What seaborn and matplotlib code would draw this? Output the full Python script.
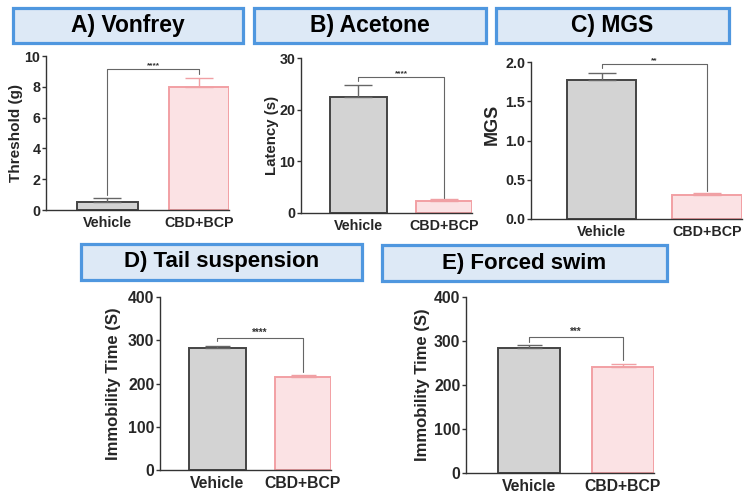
import numpy as np
import pandas as pd
import matplotlib
matplotlib.use("Agg")
import matplotlib.pyplot as plt
import seaborn as sns
from matplotlib.patches import Rectangle

sns.set_theme(style="ticks")
plt.rcParams['font.family'] = ['Liberation Sans', 'DejaVu Sans']
plt.rcParams['font.weight'] = 'bold'

groups = ["Vehicle", "CBD+BCP"]

# means and upper SEM per test
vonfrey_mean = [0.55, 8.0]
vonfrey_sem = [0.2, 0.6]
acetone_mean = [22.4, 2.3]
acetone_sem = [2.4, 0.4]
mgs_mean = [1.77, 0.30]
mgs_sem = [0.09, 0.03]
tail_mean = [283, 214]
tail_sem = [4, 5]
swim_mean = [285, 241]
swim_sem = [5, 7]

# significance brackets: height, left drop, right drop, stars
vonfrey_sig = (9.15, 1.0, 8.8, "****")
acetone_sig = (26.3, 25.5, 3.0, "****")
mgs_sig = (1.97, 1.92, 0.36, "**")
tail_sig = (305, 299, 226, "****")
swim_sig = (309, 298, 257, "***")

titles = ["A) Vonfrey", "B) Acetone", "C) MGS", "D) Tail suspension", "E) Forced swim"]
ylabels = ["Threshold (g)", "Latency (s)", "MGS", "Immobility Time (S)", "Immobility Time (S)"]
yticks = [[0, 2, 4, 6, 8, 10], [0, 10, 20, 30], [0.0, 0.5, 1.0, 1.5, 2.0],
          [0, 100, 200, 300, 400], [0, 100, 200, 300, 400]]
yticklabels = [None, None, ["0.0", "0.5", "1.0", "1.5", "2.0"], None, None]

W, H = 748, 499
fig = plt.figure(figsize=(W / 100, H / 100), dpi=100)


def px_axes(x0, x1, ytop, ybot):
    return fig.add_axes([x0 / W, 1 - ybot / H, (x1 - x0) / W, (ybot - ytop) / H])


def title_box(x0, x1, y0, y1, text, size):
    fig.patches.append(Rectangle((x0 / W, 1 - y1 / H), (x1 - x0) / W, (y1 - y0) / H,
                                 transform=fig.transFigure, facecolor="#dde9f6",
                                 edgecolor="#4f97df", linewidth=2.3))
    fig.text((x0 + x1) / 2 / W, 1 - (y0 + y1) / 2 / H, text, ha="center", va="center",
             fontsize=size, fontweight="bold", color="black")


axes = [px_axes(46, 229, 56, 210), px_axes(301, 472, 58, 213), px_axes(531, 742, 62, 219),
        px_axes(160, 331, 297, 470), px_axes(466, 654, 297, 473)]
means = [vonfrey_mean, acetone_mean, mgs_mean, tail_mean, swim_mean]
sems = [vonfrey_sem, acetone_sem, mgs_sem, tail_sem, swim_sem]
sigs = [vonfrey_sig, acetone_sig, mgs_sig, tail_sig, swim_sig]
small = [True, True, True, False, False]
label_sizes = [11, 10.8, 13, 12, 12]
label_pads = [1, 0, 1, 5, 3]

boxes = [(13, 243, 8, 43, 16.5), (254, 486, 8, 43, 16.5), (496, 729, 8, 43, 16.5),
         (81, 362, 244, 280, 16), (382, 667, 245, 281, 16)]

for i, ax in enumerate(axes):
    df = pd.DataFrame({"group": groups, "value": means[i]})
    sns.barplot(data=df, x="group", y="value", hue="group", ax=ax, width=0.66,
                palette=["#d3d3d3", "#ffdee1"], errorbar=None, legend=False)
    for bar, ec in zip(ax.patches, ["#444444", "#f2a0a4"]):
        bar.set_edgecolor(ec)
        bar.set_linewidth(1.4)
    for j in range(2):
        ec = ["#666666", "#f0a0a4"][j]
        ax.errorbar(j, means[i][j], yerr=[[0], [sems[i][j]]], fmt="none",
                    ecolor=ec, elinewidth=1.0, capsize=10 if small[i] else 9, capthick=1.0)
    top, ld, rd, stars = sigs[i]
    ax.plot([0, 0, 1, 1], [ld, top, top, rd], color="#666666", lw=0.8, clip_on=False)
    ax.text(0.5, top, stars, ha="center", va="bottom", fontsize=6 if small[i] else 7,
            color="#333333")
    ax.set_xlim(-0.67, 1.33)
    ax.set_ylim(yticks[i][0], yticks[i][-1])
    ax.set_yticks(yticks[i])
    if yticklabels[i]:
        ax.set_yticklabels(yticklabels[i])
    fs = 10.3 if small[i] else 11.3
    ax.set_xlabel("")
    ax.set_ylabel(ylabels[i], fontsize=label_sizes[i], fontweight="bold", labelpad=label_pads[i])
    ax.tick_params(axis="y", labelsize=fs, length=3, width=1, color="#333333", pad=1)
    ax.tick_params(axis="x", labelsize=fs, length=0, pad=4)
    for lab in ax.get_xticklabels() + ax.get_yticklabels():
        lab.set_fontweight("bold")
    sns.despine(ax=ax)
    for s in ["left", "bottom"]:
        ax.spines[s].set_color("#333333")
        ax.spines[s].set_linewidth(1.0)

# the MGS label sits higher and closer in the original
axes[2].yaxis.set_label_coords(-0.145, 0.605)

for (x0, x1, y0, y1, size), t in zip(boxes, titles):
    title_box(x0, x1, y0, y1, t, size)

fig.savefig("out.png", dpi=100)
